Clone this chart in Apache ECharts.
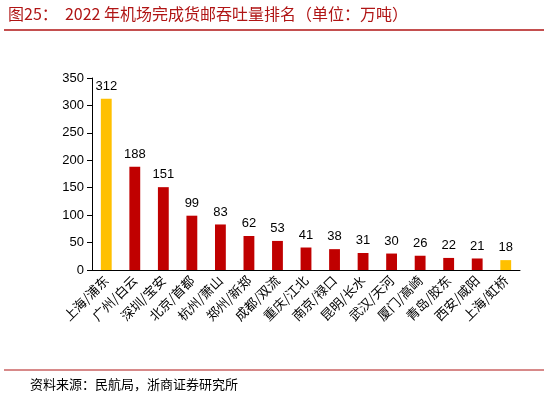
<!DOCTYPE html>
<html><head><meta charset="utf-8">
<script src="https://cdn.jsdelivr.net/npm/echarts@6/dist/echarts.min.js"></script>
<style>body{margin:0}#c{width:548px;height:403px}</style></head>
<body><div id="c"></div>
<script>
const categories=['上海/浦东','广州/白云','深圳/宝安','北京/首都','杭州/萧山','郑州/新郑','成都/双流','重庆/江北','南京/禄口','昆明/长水','武汉/天河','厦门/高崎','青岛/胶东','西安/咸阳','上海/虹桥'];
const values=[312,188,151,99,83,62,53,41,38,31,30,26,22,21,18];
const highlight=[0,14];
const chart=echarts.init(document.getElementById('c'));
chart.setOption({
  animation:false,
  graphic:[
    {type:'text',left:8,top:6,style:{text:'图25：  2022 年机场完成货邮吞吐量排名（单位：万吨）',font:'16px "Noto Sans CJK SC"',fill:'#B01515'}},
    {type:'line',shape:{x1:4,y1:30,x2:544,y2:30},style:{stroke:'#B01515',lineWidth:1.5}},
    {type:'line',shape:{x1:4,y1:370,x2:544,y2:370},style:{stroke:'#B01515',lineWidth:1}},
    {type:'text',left:30,top:378,style:{text:'资料来源：民航局，浙商证券研究所',font:'13px "Noto Sans CJK SC"',fill:'#000'}}
  ],
  grid:{left:92,right:28,top:78,bottom:133},
  xAxis:{type:'category',data:categories,axisTick:{show:false},
    axisLine:{lineStyle:{color:'#000'}},
    axisLabel:{rotate:45,interval:0,color:'#000',fontSize:13,fontFamily:'Noto Sans CJK SC'}},
  yAxis:{type:'value',min:0,max:350,interval:50,splitLine:{show:false},
    axisLine:{show:true,lineStyle:{color:'#000'}},axisTick:{show:true},
    axisLabel:{color:'#000',fontSize:13}},
  series:[{type:'bar',barWidth:'38%',
    data:values.map((v,i)=>({value:v,itemStyle:{color:highlight.includes(i)?'#FFC000':'#C00000'}})),
    label:{show:true,position:'top',color:'#000',fontSize:13,distance:6}}]
});
</script></body></html>
